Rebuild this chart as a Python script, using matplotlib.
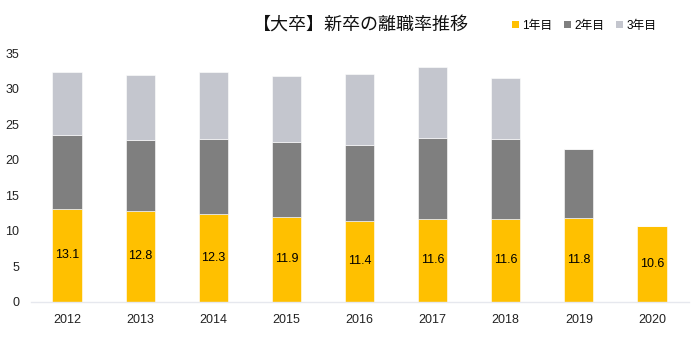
import numpy as np
import matplotlib
matplotlib.use("Agg")
from matplotlib import pyplot as plt
from matplotlib.patches import Patch

# データ
years = ["2012", "2013", "2014", "2015", "2016", "2017", "2018", "2019", "2020"]
year1 = [13.1, 12.8, 12.3, 11.9, 11.4, 11.6, 11.6, 11.8, 10.6]
year2 = [10.3, 10.0, 10.6, 10.5, 10.6, 11.4, 11.3, 9.7, 0]
year3 = [8.9, 9.1, 9.4, 9.4, 10.0, 10.0, 8.6, 0, 0]
series_names = ["1年目", "2年目", "3年目"]
colors = ["#FFC000", "#7F7F7F", "#C4C6CE"]

plt.rcParams['font.family'] = ['Liberation Sans', 'Noto Sans CJK JP', 'DejaVu Sans']

fig = plt.figure(figsize=(7.0, 3.56), dpi=100)
ax = fig.add_axes([0.0436, 0.153, 0.94, 0.698])

x = np.arange(len(years))
w = 0.40
y1 = np.array(year1)
y2 = np.array(year2)
y3 = np.array(year3)
ax.bar(x, y1, w, color=colors[0], edgecolor="white", linewidth=0.4)
ax.bar(x, y2, w, bottom=y1, color=colors[1], edgecolor="white", linewidth=0.4)
ax.bar(x, y3, w, bottom=y1 + y2, color=colors[2], edgecolor="white", linewidth=0.4)

# 1年目のラベル
for xi, v in zip(x, year1):
    ax.text(xi, v / 2, f"{v:.1f}", ha="center", va="center", fontsize=9, color="black")

ax.set_xlim(-0.5, len(years) - 0.5)
ax.set_ylim(0, 35)
ax.set_yticks(range(0, 36, 5))
ax.set_xticks(x)
ax.set_xticklabels(years)
ax.tick_params(axis="both", length=0, labelsize=9, colors="#222222")
ax.tick_params(axis="y", pad=8)
ax.tick_params(axis="x", pad=9)
for s in ["top", "right", "left"]:
    ax.spines[s].set_visible(False)
ax.spines["bottom"].set_color("#E6E8EE")
ax.spines["bottom"].set_linewidth(1.0)

fig.text(0.515, 0.93, "【大卒】新卒の離職率推移", ha="center", va="center",
         fontsize=13, family=["Noto Sans CJK JP"], color="#111111")

handles = [Patch(facecolor=c, edgecolor="none") for c in colors]
fig.legend(handles, series_names, loc="center left", bbox_to_anchor=(0.732, 0.928),
           ncol=3, frameon=False, handlelength=0.55, handleheight=0.55,
           handletextpad=0.3, columnspacing=1.0, borderpad=0, borderaxespad=0,
           prop={"family": ["Liberation Sans", "Noto Sans CJK JP"], "size": 8.5})

fig.savefig("out.png", dpi=100)
